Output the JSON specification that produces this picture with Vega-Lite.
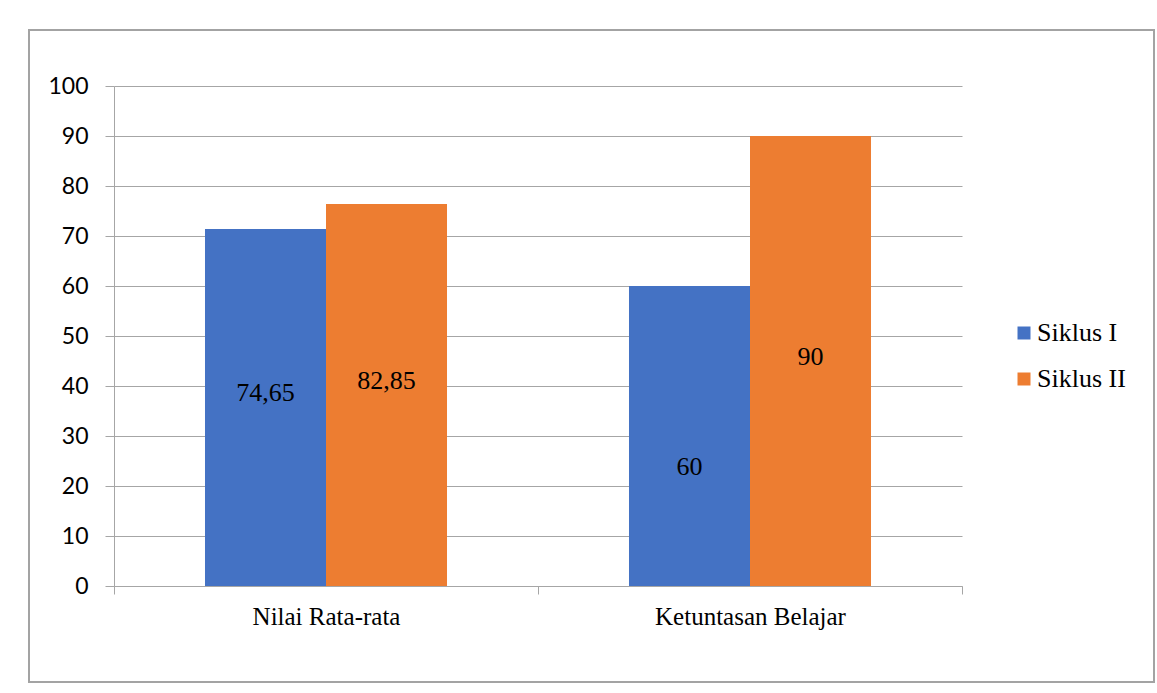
{
  "$schema": "https://vega.github.io/schema/vega-lite/v6.json",
  "width": 1125,
  "height": 652,
  "autosize": {"type": "none"},
  "padding": {"left": 29, "top": 30, "right": 3, "bottom": 11},
  "background": "white",
  "config": {"view": {"stroke": "#a3a3a3", "strokeWidth": 2}},
  "data": {
    "values": [
      {"category": "Nilai Rata-rata", "series": "Siklus I", "value": 71.4, "label": "74,65", "labelPos": 38.7},
      {"category": "Nilai Rata-rata", "series": "Siklus II", "value": 76.4, "label": "82,85", "labelPos": 41},
      {"category": "Ketuntasan Belajar", "series": "Siklus I", "value": 60, "label": "60", "labelPos": 23.8},
      {"category": "Ketuntasan Belajar", "series": "Siklus II", "value": 90, "label": "90", "labelPos": 45.9}
    ]
  },
  "encoding": {
    "x": {
      "field": "category",
      "type": "nominal",
      "sort": ["Nilai Rata-rata", "Ketuntasan Belajar"],
      "scale": {"range": [85, 933], "paddingInner": 0, "paddingOuter": 0},
      "axis": {
        "title": null,
        "labelAngle": 0,
        "labelLimit": 0,
        "offset": -96,
        "tickBand": "extent",
        "domainColor": "#a6a6a6",
        "tickColor": "#a6a6a6",
        "tickSize": 8,
        "labelFont": "Liberation Serif",
        "labelFontSize": 25,
        "labelColor": "#000000",
        "labelPadding": 10
      }
    },
    "xOffset": {
      "field": "series",
      "type": "nominal",
      "sort": ["Siklus I", "Siklus II"],
      "scale": {"paddingInner": 0, "paddingOuter": 0.752}
    }
  },
  "layer": [
    {
      "mark": {"type": "bar"},
      "encoding": {
        "y": {
          "field": "value",
          "type": "quantitative",
          "scale": {"domain": [0, 100], "nice": false, "range": [556, 56]},
          "axis": {
            "title": null,
            "offset": -85,
            "values": [0, 10, 20, 30, 40, 50, 60, 70, 80, 90, 100],
            "grid": true,
            "gridColor": "#a6a6a6",
            "gridWidth": 1,
            "domainColor": "#a6a6a6",
            "tickColor": "#a6a6a6",
            "tickSize": 9,
            "labelFont": "Lato",
            "labelFontSize": 23,
            "labelColor": "#000000",
            "labelPadding": 17
          }
        },
        "color": {
          "field": "series",
          "type": "nominal",
          "sort": ["Siklus I", "Siklus II"],
          "scale": {"domain": ["Siklus I", "Siklus II"], "range": ["#4472C4", "#ED7D31"]},
          "legend": {
            "title": null,
            "orient": "none",
            "legendX": 982,
            "legendY": 290,
            "symbolType": "square",
            "symbolSize": 169,
            "symbolStrokeWidth": 0,
            "labelFont": "Liberation Serif",
            "labelFontSize": 26,
            "labelColor": "#000000",
            "labelOffset": 0,
            "rowPadding": 20
          }
        }
      }
    },
    {
      "mark": {"type": "text", "font": "Liberation Serif", "fontSize": 26, "color": "#000000", "baseline": "middle", "align": "center"},
      "encoding": {
        "y": {"field": "labelPos", "type": "quantitative"},
        "text": {"field": "label", "type": "nominal"}
      }
    }
  ]
}
